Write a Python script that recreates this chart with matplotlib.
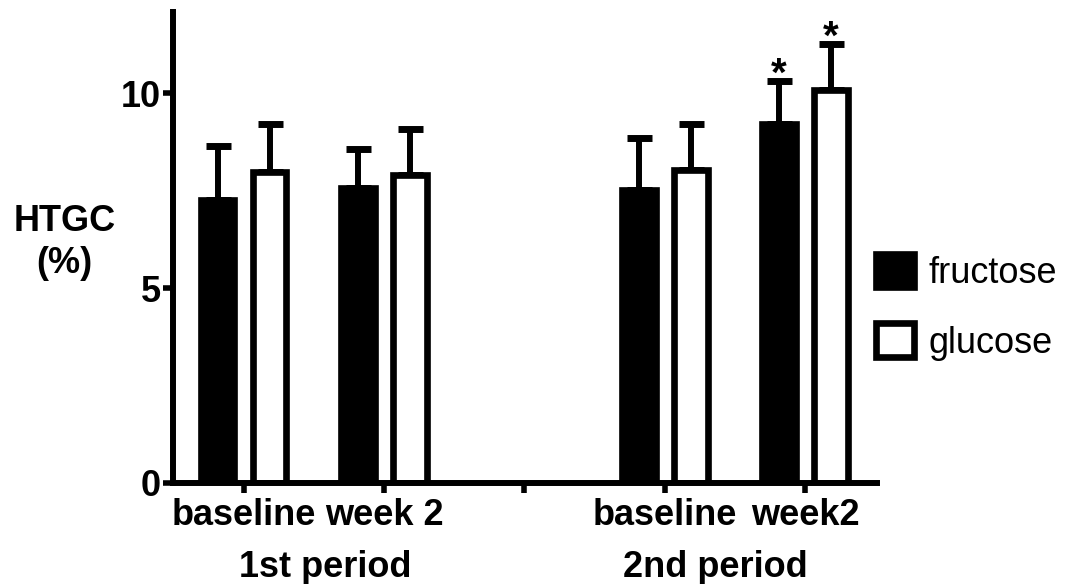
import matplotlib
matplotlib.use("Agg")
import matplotlib.pyplot as plt
from matplotlib.patches import Patch
import numpy as np

plt.rcParams['font.family'] = ['Liberation Sans', 'DejaVu Sans']

# Data
positions = [1, 2, 4, 5]
tick_labels = ["baseline", "week 2", "baseline", "week2"]
period_labels = ["1st period", "2nd period"]
fructose_mean = [7.27, 7.57, 7.53, 9.22]
fructose_err = [1.37, 0.99, 1.33, 1.10]
glucose_mean = [7.97, 7.91, 8.04, 10.09]
glucose_err = [1.25, 1.17, 1.16, 1.17]
fructose_sig = [False, False, False, True]
glucose_sig = [False, False, False, True]

fig = plt.figure(figsize=(10.77, 5.84), dpi=100)
ax = fig.add_axes([0.161, 0.173, 0.653, 0.806])

w = 0.24
off = 0.185
lw = 4.8
xf = np.array(positions) - off
xg = np.array(positions) + off

ax.errorbar(xf, fructose_mean, yerr=[np.zeros(4), fructose_err], fmt='none',
            ecolor='black', elinewidth=4.3, capsize=9, capthick=5, zorder=1)
ax.errorbar(xg, glucose_mean, yerr=[np.zeros(4), glucose_err], fmt='none',
            ecolor='black', elinewidth=4.3, capsize=9, capthick=5, zorder=1)
ax.bar(xf, fructose_mean, width=w, color='black', edgecolor='black', linewidth=lw, zorder=2)
ax.bar(xg, glucose_mean, width=w, color='white', edgecolor='black', linewidth=lw, zorder=2)

for x, m, e, s in zip(xf, fructose_mean, fructose_err, fructose_sig):
    if s:
        ax.annotate('*', (x, m + e), xytext=(0, -9), textcoords='offset points',
                    ha='center', va='bottom', fontsize=29, fontweight='bold')
for x, m, e, s in zip(xg, glucose_mean, glucose_err, glucose_sig):
    if s:
        ax.annotate('*', (x, m + e), xytext=(0, -9), textcoords='offset points',
                    ha='center', va='bottom', fontsize=29, fontweight='bold')

ax.set_xlim(0.5, 5.51)
ax.set_ylim(0, 12.08)
ax.set_yticks([0, 5, 10])
ax.set_yticklabels(['0', '5', '10'], fontsize=26, fontweight='bold')
ax.set_xticks([1, 2, 3, 4, 5])
ax.set_xticklabels([tick_labels[0], tick_labels[1], '', tick_labels[2], tick_labels[3]],
                   fontsize=26, fontweight='bold')
ax.tick_params(axis='both', width=4, length=7, direction='out', pad=2)
ax.tick_params(axis='x', pad=4)

for sp in ['top', 'right']:
    ax.spines[sp].set_visible(False)
for sp in ['left', 'bottom']:
    ax.spines[sp].set_linewidth(4.3)

ax.text(1.58, -0.2, period_labels[0], transform=ax.get_xaxis_transform(),
        ha='center', va='baseline', fontsize=26, fontweight='bold')
ax.text(4.36, -0.2, period_labels[1], transform=ax.get_xaxis_transform(),
        ha='center', va='baseline', fontsize=26, fontweight='bold')

fig.text(0.06, 0.585, "HTGC\n(%)", ha='center', va='center', fontsize=26,
         fontweight='bold', linespacing=1.25)

handles = [Patch(facecolor='black', edgecolor='black', linewidth=lw, label='fructose'),
           Patch(facecolor='white', edgecolor='black', linewidth=lw, label='glucose')]
fig.legend(handles=handles, loc='center left', bbox_to_anchor=(0.783, 0.474),
           frameon=False, fontsize=26, handlelength=1.05, handleheight=1.05,
           handletextpad=0.4, labelspacing=0.9)

fig.savefig('out.png', dpi=100)
